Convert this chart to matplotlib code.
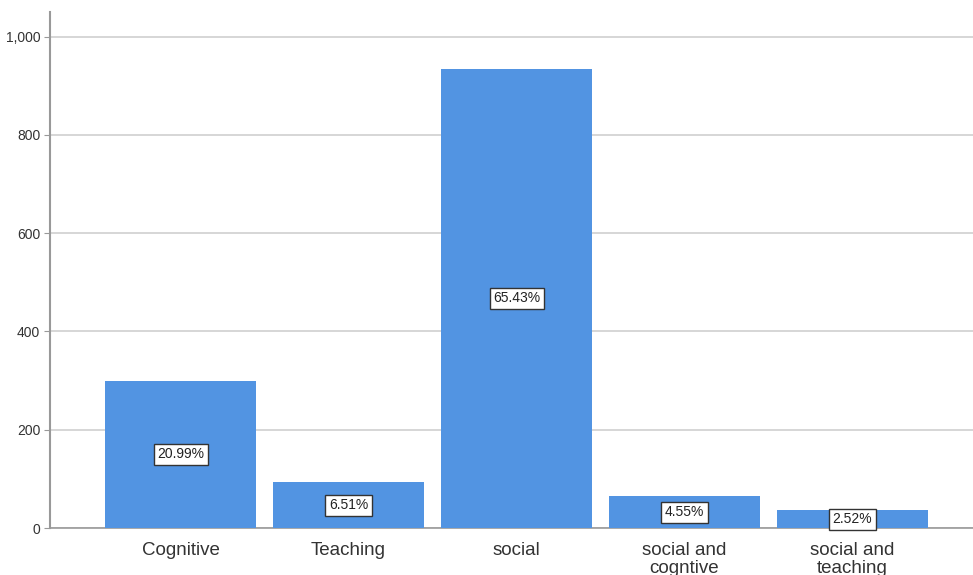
import matplotlib
matplotlib.use("Agg")
import matplotlib.pyplot as plt
from matplotlib.ticker import FuncFormatter

categories = ["Cognitive", "Teaching", "social", "social and\ncogntive", "social and\nteaching"]
counts = [300, 93, 935, 65, 36]
pct_labels = ["20.99%", "6.51%", "65.43%", "4.55%", "2.52%"]

plt.rcParams['font.family'] = ['Liberation Sans', 'DejaVu Sans']

fig = plt.figure(figsize=(9.73, 5.75), dpi=100)
W, H = 973, 575
ax = fig.add_axes([50 / W, (H - 528) / H, (984 - 50) / W, (528 - 12) / H])

x = list(range(len(categories)))
ax.bar(x, counts, width=0.9, color="#5294e2", zorder=3)
ax.set_xlim(-0.777, -0.777 + 934 / 168)
ax.set_ylim(0, 1050)
ax.set_yticks([0, 200, 400, 600, 800, 1000])
ax.yaxis.set_major_formatter(FuncFormatter(lambda v, p: f"{int(v):,}"))
ax.grid(axis="y", color="#cfcfcf", linewidth=1.2, zorder=0)

for xi, c, lab in zip(x, counts, pct_labels):
    ax.text(xi, c / 2, lab, ha="center", va="center", fontsize=10, color="#222222",
            zorder=5,
            bbox=dict(boxstyle="square,pad=0.25", facecolor="white", edgecolor="#333333", linewidth=1))

ax.set_xticks(x)
ax.set_xticklabels(categories, fontsize=13.5, color="#333333", linespacing=1.05)
ax.tick_params(axis="x", length=0, pad=10)
ax.tick_params(axis="y", length=4, color="#999999", labelsize=10, labelcolor="#333333", pad=3)

for s in ["top", "right"]:
    ax.spines[s].set_visible(False)
ax.spines["left"].set_color("#999999")
ax.spines["left"].set_linewidth(1.5)
ax.spines["bottom"].set_color("#999999")
ax.spines["bottom"].set_linewidth(1.2)

fig.savefig("out.png", dpi=100)
